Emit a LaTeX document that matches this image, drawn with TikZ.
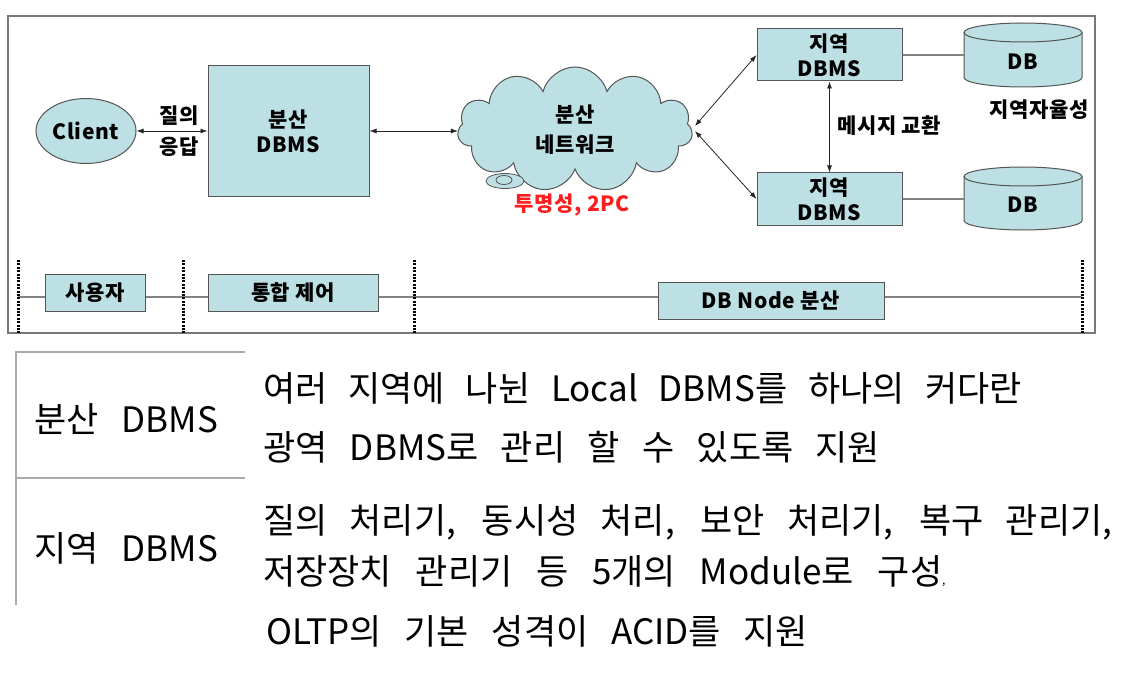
\documentclass[tikz,border=0pt]{standalone}
\usepackage{fontspec}
\newfontfamily\kr{Noto Sans CJK KR}
\usetikzlibrary{arrows.meta,shapes.geometric,shapes.symbols}
\definecolor{boxfill}{RGB}{188,224,228}
\definecolor{edgegray}{RGB}{85,85,85}
\definecolor{framegray}{RGB}{120,120,120}
\definecolor{linegray}{RGB}{130,130,130}
\definecolor{tablegray}{RGB}{170,170,170}
\definecolor{redtxt}{RGB}{250,30,30}
\newcommand\dbcyl[3]{%
  \fill[boxfill] (#1-59,#2) -- (#1-59,#3) arc[start angle=180,end angle=360,x radius=59pt,y radius=9.5pt] -- (#1+59,#2) -- cycle;
  \draw[edgegray,line width=1pt] (#1-59,#2) -- (#1-59,#3) arc[start angle=180,end angle=360,x radius=59pt,y radius=9.5pt] -- (#1+59,#2);
  \draw[edgegray,fill=boxfill,line width=1pt] (#1,#2) ellipse[x radius=59pt, y radius=9.5pt];
}
\tikzset{
  topfont/.style={font=\kr\bfseries\fontsize{21}{25}\selectfont\addfontfeature{LetterSpace=3}},
  box/.style={draw=edgegray, fill=boxfill, line width=1pt, inner sep=0pt, topfont, align=center, text=black},
  arr/.style={{Latex[length=7pt,width=5pt]}-{Latex[length=7pt,width=5pt]}, line width=0.8pt, black!85},
  plain/.style={draw=linegray, line width=1.2pt},
  dotline/.style={line width=3pt, dash pattern=on 2pt off 1.4pt},
  lbl/.style={topfont, inner sep=0pt},
  bodytext/.style={font=\kr\fontsize{35}{40}\selectfont, inner sep=0pt, anchor=west},
}
\begin{document}
\begin{tikzpicture}[x=1pt,y=-1pt]
\useasboundingbox (0,0) rectangle (1122,674);
\fill[white] (0,0) rectangle (1122,674);

% frame
\draw[framegray, line width=1.5pt] (8,16) rectangle (1095,333);

% client and distributed DBMS
\node[box, ellipse, minimum width=100pt, minimum height=65pt] (client) at (86,131) {Client};
\node[box, minimum width=161pt, minimum height=130pt] (dbms) at (288.5,131) {분산\\DBMS};
\node[lbl] (q) at (179,116) {질의};
\node[lbl] (r) at (179,147) {응답};

% cloud
\node[cloud, cloud puffs=11, aspect=1.9, draw=edgegray, fill=boxfill, line width=1pt,
      minimum width=235pt, minimum height=125pt, inner sep=0pt, topfont, align=center] (net) at (575,129.5) {분산\\[5pt]네트워크};
\draw[edgegray, fill=boxfill, line width=0.8pt] (505,181) ellipse[x radius=19pt, y radius=7.5pt];
\draw[edgegray, line width=0.8pt] (504,180) ellipse[x radius=8pt, y radius=4.5pt];
\node[lbl, text=redtxt] (tp) at (572,205) {투명성, 2PC};

% local DBMS
\node[box, minimum width=145pt, minimum height=52pt] (l1) at (829.5,55) {지역\\DBMS};
\node[box, minimum width=145pt, minimum height=52pt] (l2) at (829.5,199) {지역\\DBMS};
\node[lbl, anchor=west] (msg) at (837,126) {메시지 교환};
\node[lbl] (auto) at (1039,110) {지역자율성};

% DB cylinders
\dbcyl{1023}{32.5}{77.5}
\dbcyl{1023}{176.5}{220.5}
\node[lbl, minimum width=118pt] (db1) at (1023,62) {DB};
\node[lbl, minimum width=118pt] (db2) at (1023,205) {DB};

% connectors
\draw[arr] (client) -- (dbms);
\draw[arr] (dbms.east) -- (dbms.east -| net.west);
\coordinate (nt) at (695,126);
\coordinate (nb) at (695,131);
\draw[arr] (nt) -- (l1.west);
\draw[arr] (nb) -- (l2.west);
\draw[arr] (l1) -- (l2);
\draw[plain] (l1.east) -- (l1.east -| db1.west);
\draw[plain] (l2.east) -- (l2.east -| db2.west);

% bottom lane
\coordinate (t0) at (18,297);
\coordinate (t3) at (1082,297);
\draw[plain] (t0) -- (t3);
\draw[dotline] (18,260) -- (18,333);
\draw[dotline] (183,260) -- (183,333);
\draw[dotline] (414,260) -- (414,333);
\draw[dotline] (1082,260) -- (1082,333);
\node[box, minimum width=100pt, minimum height=37pt] (user) at (95,293) {사용자};
\node[box, minimum width=170pt, minimum height=37pt] (integ) at (293,293) {통합 제어};
\node[box, minimum width=226pt, minimum height=37pt] (dbnode) at (771,300.5) {DB Node 분산};

% table
\draw[tablegray, line width=2pt] (16,352) -- (245,352);
\draw[tablegray, line width=2pt] (16,478) -- (245,478);
\draw[tablegray, line width=2pt] (16,351) -- (16,605);

\node[bodytext] (h1) at (34,419) {\makebox[184pt][s]{분산 DBMS}};
\node[bodytext] (h2) at (34,548) {\makebox[184pt][s]{지역 DBMS}};
\node[bodytext] (a1) at (263,388) {\makebox[759pt][s]{여러 지역에 나뉜 Local DBMS를 하나의 커다란}};
\node[bodytext] (a2) at (263,447) {\makebox[617pt][s]{광역 DBMS로 관리 할 수 있도록 지원}};
\node[bodytext] (b1) at (263,522) {\makebox[849pt][s]{질의 처리기, 동시성 처리, 보안 처리기, 복구 관리기,}};
\node[bodytext] (b2) at (263,571) {\makebox[679pt][s]{저장장치 관리기 등 5개의 Module로 구성}{\fontsize{12}{12}\selectfont ,}};
\node[bodytext] (b3) at (266,631) {\makebox[542pt][s]{OLTP의 기본 성격이 ACID를 지원}};
\end{tikzpicture}
\end{document}
